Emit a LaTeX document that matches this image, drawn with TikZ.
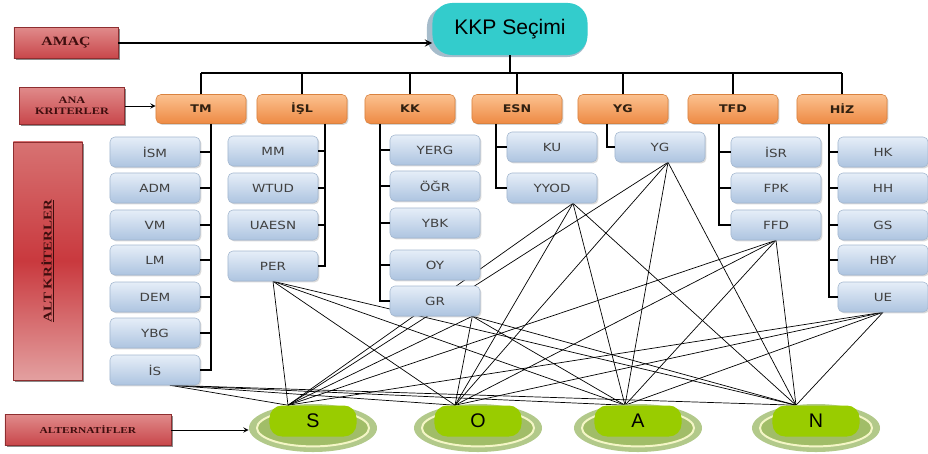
\documentclass[tikz,border=0pt]{standalone}
\usepackage{fontspec}
\setmainfont{Liberation Sans}
\newfontfamily\kutufont[FakeStretch=1.2]{DejaVu Sans}
\newfontfamily\baslikfont[FakeStretch=1.25]{Liberation Serif}
\usetikzlibrary{calc,arrows,positioning}
\usetikzlibrary{shapes.geometric,shadows,backgrounds}

\definecolor{kirmiziA}{HTML}{E08A8A}
\definecolor{kirmiziB}{HTML}{C8464A}
\definecolor{kirmiziC}{HTML}{C9393E}
\definecolor{kirmiziD}{HTML}{D77272}
\definecolor{kirmiziE}{HTML}{E3A0A0}
\definecolor{kirmiziK}{HTML}{8E2E30}
\definecolor{kirmiziY}{HTML}{3E0E0E}
\definecolor{turuncuA}{HTML}{FBC18F}
\definecolor{turuncuB}{HTML}{EE8A44}
\definecolor{turuncuK}{HTML}{D9823F}
\definecolor{maviA}{HTML}{E6EEF8}
\definecolor{maviB}{HTML}{ADC4E0}
\definecolor{maviK}{HTML}{A3B7CF}
\definecolor{turkuaz}{HTML}{33CCCC}
\definecolor{golge}{HTML}{A6BCCB}
\definecolor{yesil}{HTML}{99CC00}
\definecolor{halkadis}{HTML}{B2C98A}
\definecolor{halkaic}{HTML}{A1BD68}
\definecolor{krem}{HTML}{F4F6C6}

\begin{document}
\begin{tikzpicture}[x=0.025cm,y=-0.025cm,
  kirmizi/.style={draw=kirmiziK, top color=kirmiziA, bottom color=kirmiziB, text=kirmiziY,
    align=center, inner sep=0pt, font=\baslikfont\bfseries\fontsize{7}{8}\selectfont,
    drop shadow={shadow xshift=1.3pt, shadow yshift=-1.3pt, fill=black!75, opacity=.6}},
  anakrit/.style={draw=turuncuK, top color=turuncuA, bottom color=turuncuB, rounded corners=3.5pt,
    minimum width=2.25cm, minimum height=0.725cm, inner sep=0pt, text=black!75!brown,
    font=\kutufont\bfseries\fontsize{7.5}{8}\selectfont,
    drop shadow={shadow xshift=1pt, shadow yshift=-1pt, opacity=.35}},
  altkrit/.style={draw=maviK, top color=maviA, bottom color=maviB, rounded corners=3.5pt,
    minimum width=2.25cm, minimum height=0.75cm, inner sep=0pt, text=black!75,
    font=\kutufont\fontsize{8}{9}\selectfont,
    drop shadow={shadow xshift=1pt, shadow yshift=-1pt, opacity=.3}},
  alternatif/.style={fill=yesil, rounded corners=9pt, minimum width=2.175cm, minimum height=0.775cm,
    inner sep=0pt, font=\fontsize{14}{16}\selectfont},
  halka/.style={ellipse, fill=halkadis, minimum width=3.2cm, minimum height=1.2cm, inner sep=0pt},
  ichalka/.style={ellipse, draw=krem, line width=1.4pt, fill=halkaic, minimum width=2.8cm,
    minimum height=0.92cm, inner sep=0pt},
  agac/.style={line width=0.8pt},
  baglanti/.style={line width=0.5pt}]

\useasboundingbox (0,0) rectangle (928,454);

% sol etiketler
\node[kirmizi, minimum width=2.6cm, minimum height=0.775cm, font=\baslikfont\bfseries\fontsize{9}{10}\selectfont] (amac) at (66,43) {AMAÇ};
\node[kirmizi, minimum width=2.625cm, minimum height=0.925cm] (ana) at (72,106) {ANA\\KRITERLER};
\node[kirmizi, minimum width=1.725cm, minimum height=5.95cm, top color=kirmiziD, bottom color=kirmiziE, middle color=kirmiziC,
  font=\baslikfont\bfseries\fontsize{8.5}{9}\selectfont] (alt) at (48,261) {\rotatebox{90}{\underline{ALT KRİTERLER}}};
\node[kirmizi, minimum width=4.15cm, minimum height=0.775cm, font=\baslikfont\bfseries\fontsize{6.5}{7}\selectfont] (alter) at (88,430) {ALTERNATİFLER};

% amac
\node[fill=golge, rounded corners=14pt, minimum width=4cm, minimum height=1.25cm] (kkpgolge) at (507,32) {};
\node[fill=turkuaz, rounded corners=14pt, minimum width=3.875cm, minimum height=1.3cm, inner sep=0pt,
  font=\fontsize{15}{17}\selectfont] (kkp) at (510,29) {KKP Seçimi};

% ana kriterler
\foreach \n/\t/\x in {tm/TM/201, isl/İŞL/302, kk/KK/410, esn/ESN/517, yg/YG/623, tfd/TFD/733, hiz/HİZ/842}
  \node[anakrit] (\n) at (\x,109) {\t};

% alt kriterler
\foreach \n/\t/\y in {ism/İSM/152, adm/ADM/188, vm/VM/225, lm/LM/260, dem/DEM/297, ybg/YBG/333, is/İS/370}
  \node[altkrit] (\n) at (155,\y) {\t};
\foreach \n/\t/\y in {mm/MM/151, wtud/WTUD/188, uaesn/UAESN/225, per/PER/266}
  \node[altkrit] (\n) at (273,\y) {\t};
\foreach \n/\t/\y in {yerg/YERG/150, ogr/ÖĞR/186, ybk/YBK/223, oy/OY/265, gr/GR/301}
  \node[altkrit] (\n) at (435,\y) {\t};
\foreach \n/\t/\y in {ku/KU/147, yyod/YYOD/188}
  \node[altkrit] (\n) at (552,\y) {\t};
\node[altkrit] (ygs) at (660,147) {YG};
\foreach \n/\t/\y in {isr/İSR/152, fpk/FPK/188, ffd/FFD/225}
  \node[altkrit] (\n) at (776,\y) {\t};
\foreach \n/\t/\y in {hk/HK/152, hh/HH/188, gs/GS/225, hby/HBY/260, ue/UE/297}
  \node[altkrit] (\n) at (883,\y) {\t};

% alternatifler
\foreach \n/\t/\x/\d in {S/S/313/-25, O/O/478/-23, A/A/638/-13, N/N/816/-20}{
  \node[halka] (\n halka) at (\x,428) {};
  \node[ichalka] at (\x,428) {};
  \node[alternatif] (\n) at (\x,421) {\t};
  \coordinate (\n a) at ($(\n.north)+(\d,0)$);
}

% oklar
\draw[->,>=stealth,line width=1.3pt] (amac) -- (amac -| kkp.west);
\draw[->,>=stealth,line width=0.7pt] (ana.east) -- (ana.east -| tm.west);
\draw[->,>=stealth,line width=0.7pt] (alter.east) -- (alter.east -| Shalka.west);

% agac
\coordinate (cubuk) at ($(kkp.south)+(0,18)$);
\draw[line width=1.3pt] (kkp.south) -- (kkp.south |- cubuk);
\draw[line width=1.3pt] (tm.north |- cubuk) -- (hiz.north |- cubuk);
\foreach \n in {tm,isl,kk,esn,yg,tfd,hiz}
  \draw[line width=1.1pt] (\n.north) -- (\n.north |- cubuk);

\coordinate (tmt) at ($(tm.south)+(10,0)$);
\draw[agac] (tmt) |- (is.east);
\foreach \n in {ism,adm,vm,lm,dem,ybg} \draw[agac] (\n.east) -- (\n.east -| tmt);
\coordinate (islt) at ($(isl.south)+(23,0)$);
\draw[agac] (islt) |- (per.east);
\foreach \n in {mm,wtud,uaesn} \draw[agac] (\n.east) -- (\n.east -| islt);
\coordinate (kkt) at ($(kk.south)+(-30,0)$);
\draw[agac] (kkt) |- (gr.west);
\foreach \n in {yerg,ogr,ybk,oy} \draw[agac] (\n.west) -- (\n.west -| kkt);
\coordinate (esnt) at ($(esn.south)+(-21,0)$);
\draw[agac] (esnt) |- (yyod.west);
\draw[agac] (ku.west) -- (ku.west -| esnt);
\coordinate (ygt) at ($(yg.south)+(-16,0)$);
\draw[agac] (ygt) |- (ygs.west);
\coordinate (tfdt) at ($(tfd.south)+(-14,0)$);
\draw[agac] (tfdt) |- (ffd.west);
\foreach \n in {isr,fpk} \draw[agac] (\n.west) -- (\n.west -| tfdt);
\coordinate (hizt) at ($(hiz.south)+(-13,0)$);
\draw[agac] (hizt) |- (ue.west);
\foreach \n in {hk,hh,gs,hby} \draw[agac] (\n.west) -- (\n.west -| hizt);

% alt kriterlerden alternatiflere
\coordinate (isk) at ($(is.south)+(15,0)$);
\coordinate (perk) at (per.south);
\coordinate (grk) at ($(gr.south east)+(-8,0)$);
\coordinate (yyodk) at ($(yyod.south)+(21,0)$);
\coordinate (ygk) at ($(ygs.south)+(8,0)$);
\coordinate (ffdk) at (ffd.south);
\coordinate (uek) at (ue.south);
\begin{pgfonlayer}{background}
\foreach \k in {isk,perk,grk,yyodk,ygk,ffdk,uek}
  \foreach \a in {S,O,A,N}
    \draw[baglanti] (\k) -- (\a a);
\end{pgfonlayer}

\end{tikzpicture}
\end{document}
